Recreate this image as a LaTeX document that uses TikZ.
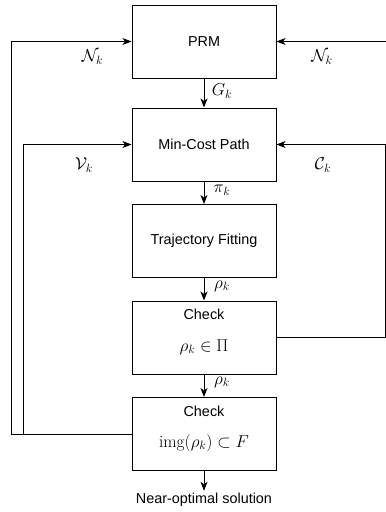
\documentclass[tikz,border=0pt]{standalone}
\usepackage{fontspec}
\setsansfont{Liberation Sans}
\usetikzlibrary{arrows.meta}

\begin{document}
\begin{tikzpicture}[x=1pt, y=-1pt, >={Stealth[length=9pt,width=7pt,inset=2.5pt]}, line width=1pt, ->]
  \tikzstyle{Box}=[draw, rectangle, minimum width=144pt, minimum height=73pt, inner sep=0pt, font=\sffamily\fontsize{14.4}{17}\selectfont]
  \tikzstyle{T}=[font=\sffamily\fontsize{14.4}{17}\selectfont, inner sep=2pt]
  \tikzstyle{M}=[font=\fontsize{17.28}{20}\selectfont, inner sep=0pt]

  \useasboundingbox (0,0) rectangle (386,512);

  \node[Box] at (204,41.5) (prm) {PRM};
  \node[Box] at (204,144.5) (mcp) {Min-Cost Path};
  \node[Box] at (204,241) (fit) {Trajectory Fitting};
  \node[Box] at (204,337.5) (chk1) {};
  \node[Box] at (204,434) (chk2) {};
  \node[T] at (204,500) (sol) {Near-optimal solution};

  \node[T] at (204,314) (chk1t) {Check};
  \node[M] at (204,347) (chk1m) {$\rho_k \in \Pi$};
  \node[T] at (204,411) (chk2t) {Check};
  \node[M] at (204,443) (chk2m) {$\mathrm{img}(\rho_k) \subset F$};

  \coordinate (rin) at (387,41.5);

  \draw (prm) -- (mcp);
  \draw (mcp) -- (fit);
  \draw (fit) -- (chk1);
  \draw (chk1) -- (chk2);
  \draw (chk2) -- (sol);

  \draw (chk2.west) -- (11,434) -- (11,41.5) -- (prm.west);
  \draw (chk2.west) -- (23,434) -- (23,144.5) -- (mcp.west);
  \draw (rin) -- (prm.east);
  \draw (chk1.east) -- (385,337.5) -- (385,144.5) -- (mcp.east);

  \node[M] at (92.5,57) {$\mathcal{N}_k$};
  \node[M] at (322,57) {$\mathcal{N}_k$};
  \node[M] at (84,165) {$\mathcal{V}_k$};
  \node[M] at (323,165) {$\mathcal{C}_k$};
  \node[M] at (222,91) {$G_k$};
  \node[M] at (222,190) {$\pi_k$};
  \node[M] at (222,286) {$\rho_k$};
  \node[M] at (222,382) {$\rho_k$};
\end{tikzpicture}
\end{document}
